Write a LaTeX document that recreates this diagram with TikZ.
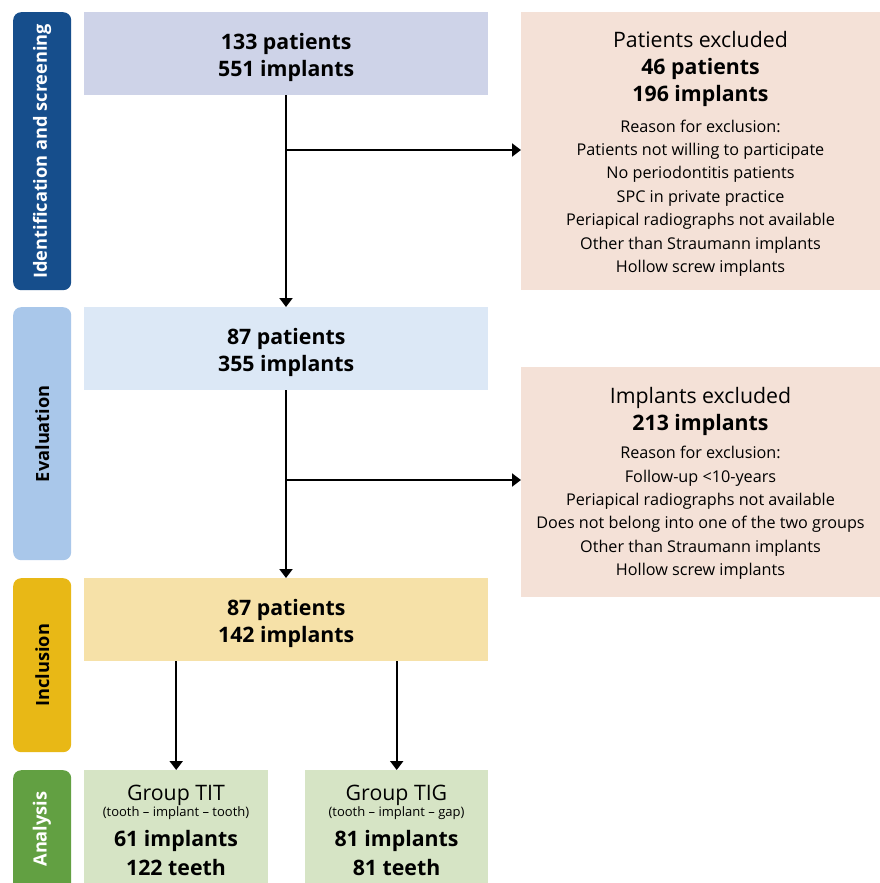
\documentclass[tikz,border=0pt]{standalone}
\usepackage{fontspec}
\setmainfont{Open Sans}
\usetikzlibrary{arrows.meta}
\definecolor{idblue}{HTML}{164E8C}
\definecolor{evalblue}{HTML}{A9C7EA}
\definecolor{inclyellow}{HTML}{E8B816}
\definecolor{anagreen}{HTML}{62A042}
\definecolor{boxA}{HTML}{CED3E8}
\definecolor{boxB}{HTML}{DCE8F6}
\definecolor{boxC}{HTML}{F6E1A8}
\definecolor{boxG}{HTML}{D6E4C5}
\definecolor{peach}{HTML}{F4E1D7}
\newcommand{\bigf}{\fontsize{21.3}{27}\selectfont}
\newcommand{\smallf}{\fontsize{16.2}{23.4}\selectfont}
\begin{document}
\begin{tikzpicture}[x=1pt,y=-1pt,
  sidebar/.style={rounded corners=8pt, inner sep=0pt, anchor=north west, minimum width=58pt},
  sidelabel/.style={rotate=90, font=\fontsize{18.2}{20}\selectfont\bfseries, inner sep=0pt},
  flowbox/.style={inner sep=0pt, anchor=north west, align=center},
  txt/.style={inner sep=0pt, align=center},
  arr/.style={line width=2pt, -{Triangle[width=13pt,length=9pt]}},
  ln/.style={line width=2pt}]
\useasboundingbox[fill=white] (0,0) rectangle (880,883);

% side bars
\node[sidebar, fill=idblue, minimum height=278pt] (s1) at (13,12) {};
\node[sidelabel, text=white] (s1t) at (s1.center) {Identification and screening};
\node[sidebar, fill=evalblue, minimum height=253pt] (s2) at (13,307) {};
\node[sidelabel, text=black] (s2t) at (s2.center) {Evaluation};
\node[sidebar, fill=inclyellow, minimum height=174pt] (s3) at (13,578) {};
\node[sidelabel, text=black] (s3t) at (s3.center) {Inclusion};
\node[sidebar, fill=anagreen, minimum height=140pt] (s4) at (13,770) {};
\node[sidelabel, text=white] (s4t) at (42,829) {Analysis};

% main boxes
\node[flowbox, fill=boxA, minimum width=404pt, minimum height=83pt] (b1) at (84,12) {};
\node[txt, font=\bigf\bfseries, yshift=-3.5pt] (b1t) at (b1.center) {133 patients\\551 implants};
\node[flowbox, fill=boxB, minimum width=404pt, minimum height=83pt] (b2) at (84,307) {};
\node[txt, font=\bigf\bfseries, yshift=-3.5pt] (b2t) at (b2.center) {87 patients\\355 implants};
\node[flowbox, fill=boxC, minimum width=404pt, minimum height=83pt] (b3) at (84,578) {};
\node[txt, font=\bigf\bfseries, yshift=-3.5pt] (b3t) at (b3.center) {87 patients\\142 implants};

% group boxes
\node[flowbox, fill=boxG, minimum width=184pt, minimum height=113pt] (g1) at (84,770) {};
\node[flowbox, fill=boxG, minimum width=183pt, minimum height=113pt] (g2) at (305,770) {};
\node[txt, anchor=base, font=\bigf] (g1a) at (176,800) {Group TIT};
\node[txt, anchor=base, font=\fontsize{13}{15}\selectfont] (g1b) at (176,816.7) {(tooth -- implant -- tooth)};
\node[txt, anchor=base, font=\bigf\bfseries] (g1c) at (176,846.7) {61 implants};
\node[txt, anchor=base, font=\bigf\bfseries] (g1d) at (176,875) {122 teeth};
\node[txt, anchor=base, font=\bigf] (g2a) at (396.5,800) {Group TIG};
\node[txt, anchor=base, font=\fontsize{13}{15}\selectfont] (g2b) at (396.5,816.7) {(tooth -- implant -- gap)};
\node[txt, anchor=base, font=\bigf\bfseries] (g2c) at (396.5,846.7) {81 implants};
\node[txt, anchor=base, font=\bigf\bfseries] (g2d) at (396.5,875) {81 teeth};

% exclusion boxes
\node[flowbox, fill=peach, minimum width=359pt, minimum height=278pt] (e1) at (521,12) {};
\node[txt, anchor=north, font=\bigf] (e1h) at (700.5,31) {Patients excluded\\\textbf{46 patients}\\\textbf{196 implants}};
\node[txt, anchor=north, font=\smallf] (e1r) at (700.5,119.5) {Reason for exclusion:\\Patients not willing to participate\\No periodontitis patients\\SPC in private practice\\Periapical radiographs not available\\Other than Straumann implants\\Hollow screw implants};

\node[flowbox, fill=peach, minimum width=359pt, minimum height=230pt] (e2) at (521,367) {};
\node[txt, anchor=north, font=\bigf] (e2h) at (700.5,387) {Implants excluded\\\textbf{213 implants}};
\node[txt, anchor=north, font=\smallf] (e2r) at (700.5,446) {Reason for exclusion:\\Follow-up <10-years\\Periapical radiographs not available\\Does not belong into one of the two groups\\Other than Straumann implants\\Hollow screw implants};

% connectors
\coordinate (j1) at (286,150);
\coordinate (j2) at (286,480);
\draw[arr] (b1.south -| j1) -- (b2.north -| j1);
\draw[arr] (j1) -- (j1 -| e1.west);
\draw[arr] (b2.south -| j2) -- (b3.north -| j2);
\draw[arr] (j2) -- (j2 -| e2.west);
\draw[arr] (b3.south -| g1.north) -- (g1.north);
\draw[arr] (b3.south -| g2.north) -- (g2.north);
\end{tikzpicture}
\end{document}
